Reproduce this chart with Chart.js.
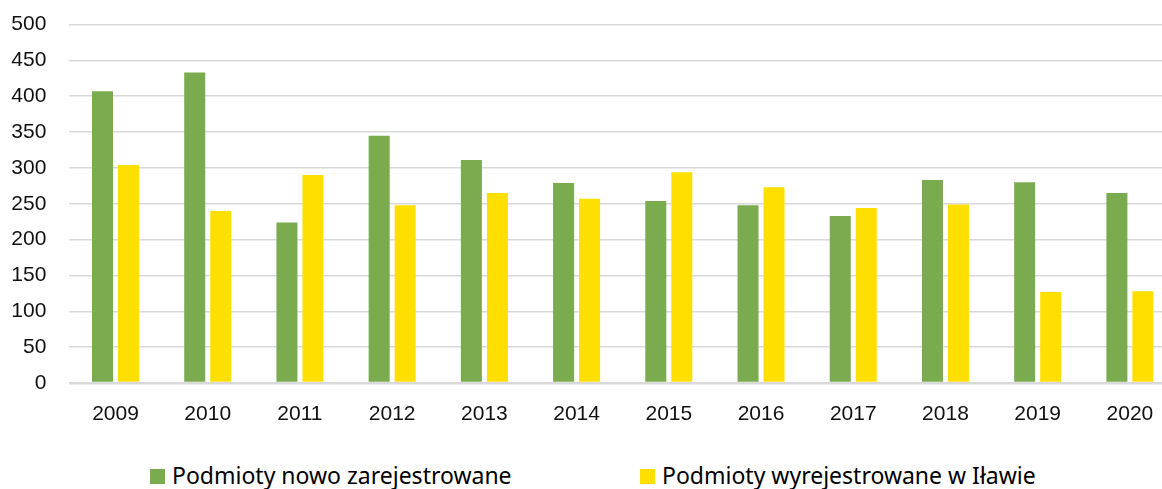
<!DOCTYPE html>
<html>
<head>
<meta charset="utf-8">
<script src="https://cdn.jsdelivr.net/npm/chart.js@4"></script>
<style>
  html, body { margin: 0; padding: 0; background: #fff; overflow: hidden; }
  #wrap { position: relative; width: 1176px; height: 489px; }
  #box { position: absolute; left: 0; top: 0; width: 1176px; height: 443px; }
  #legend { position: absolute; left: 150px; top: 459px; display: flex;
            font-family: "Noto Sans", sans-serif; font-size: 23px; color: #000; white-space: nowrap; }
  #legend .item { display: flex; align-items: baseline; }
  #legend .item:first-child { width: 490px; }
  #legend .sw { display: inline-block; width: 15px; height: 15px; margin-right: 7px; }
</style>
</head>
<body>
<div id="wrap">
  <div id="box"><canvas id="chart"></canvas></div>
  <div id="legend"></div>
</div>
<script>
// years on the x axis
const years = ['2009', '2010', '2011', '2012', '2013', '2014', '2015', '2016', '2017', '2018', '2019', '2020'];

// newly registered / deregistered entities
const registered = [407, 433, 224, 345, 311, 279, 254, 248, 233, 283, 280, 265];
const deregistered = [304, 240, 290, 248, 265, 257, 294, 273, 244, 249, 127, 128];

const seriesNames = ['Podmioty nowo zarejestrowane', 'Podmioty wyrejestrowane w Iławie'];
const seriesColors = ['#7aab4e', '#ffdf00'];

window.onload = function() {
  drawChart();
};

function drawChart() {
  const ctx = document.getElementById('chart').getContext('2d');

  const chart = new Chart(ctx, {
    type: 'bar',
    data: {
      labels: years,
      datasets: [{
        label: seriesNames[0],
        data: registered,
        backgroundColor: seriesColors[0],
        categoryPercentage: 0.564,
        barPercentage: 0.808
      }, {
        label: seriesNames[1],
        data: deregistered,
        backgroundColor: seriesColors[1],
        categoryPercentage: 0.564,
        barPercentage: 0.808
      }]
    },
    options: {
      responsive: true,
      maintainAspectRatio: false,
      animation: false,
      layout: { padding: { top: 24.5, left: 0, right: 0, bottom: 0 } },
      plugins: {
        legend: { display: false },
        tooltip: { enabled: false }
      },
      scales: {
        x: {
          grid: { display: false, drawTicks: false },
          border: { display: false },
          ticks: {
            color: '#111',
            padding: 19,
            font: { family: 'Liberation Sans', size: 21 }
          },
          afterFit: function(scale) { scale.height = 60; }
        },
        y: {
          min: 0,
          max: 500,
          grid: {
            color: '#d9d9d9',
            lineWidth: function(c) { return c.tick && c.tick.value === 0 ? 2.6 : 1.4; },
            drawTicks: false
          },
          border: { display: false },
          ticks: {
            stepSize: 50,
            color: '#111',
            padding: 23,
            font: { family: 'Liberation Sans', size: 21 }
          },
          afterFit: function(scale) {
            scale.width = 69.4;
            // the big tick padding should not push the plot down
            scale.paddingTop = 0;
            scale.paddingBottom = 0;
          }
        }
      }
    }
  });

  // html legend built from the datasets
  const legend = document.getElementById('legend');
  chart.data.datasets.forEach(function(ds) {
    const item = document.createElement('div');
    item.className = 'item';
    const sw = document.createElement('span');
    sw.className = 'sw';
    sw.style.background = ds.backgroundColor;
    const txt = document.createElement('span');
    txt.textContent = ds.label;
    item.appendChild(sw);
    item.appendChild(txt);
    legend.appendChild(item);
  });
}
</script>
</body>
</html>
